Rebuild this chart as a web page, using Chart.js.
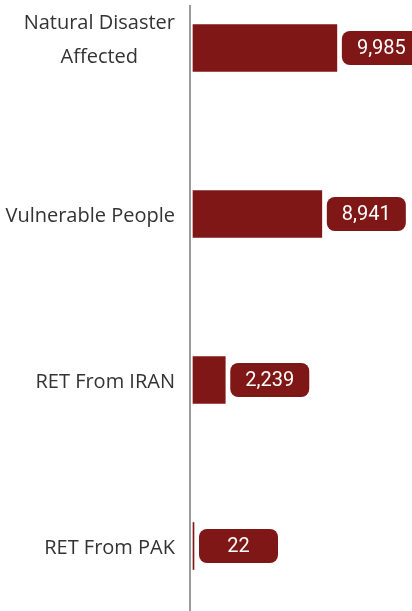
<!DOCTYPE html>
<html>
<head>
<meta charset="utf-8">
<script src="https://cdn.jsdelivr.net/npm/chart.js@4"></script>
<style>
  html, body { margin: 0; padding: 0; background: #fff; }
  #wrap { width: 412px; height: 611px; position: relative; }
</style>
</head>
<body>
<div id="wrap"><canvas id="chart"></canvas></div>
<script>
// datos del grafico
const categories = [['Natural Disaster', 'Affected'], 'Vulnerable People', 'RET From IRAN', 'RET From PAK'];
const values = [9985, 8941, 2239, 22];
const valueLabels = ['9,985', '8,941', '2,239', '22'];

const barColor = '#7E1716';

// etiquetas de categoria a la izquierda (lineas centradas entre si, bloque alineado a la derecha)
const categoryLabels = {
  id: 'categoryLabels',
  afterDraw(chart) {
    const ctx = chart.ctx;
    const y = chart.scales.y;
    const rightX = 175;
    ctx.save();
    ctx.font = '20px "Open Sans"';
    ctx.fillStyle = '#333333';
    ctx.textBaseline = 'middle';
    ctx.textAlign = 'center';
    categories.forEach((cat, i) => {
      const lines = Array.isArray(cat) ? cat : [cat];
      const w = Math.max(...lines.map(l => ctx.measureText(l).width));
      const cy = y.getPixelForValue(i);
      const lh = 34;
      const start = lines.length > 1 ? cy - 25 : cy + 2;
      lines.forEach((l, j) => {
        ctx.fillText(l, rightX - w / 2, start + j * lh);
      });
    });
    // linea del eje
    ctx.strokeStyle = '#9a9a9a';
    ctx.lineWidth = 2;
    ctx.beginPath();
    ctx.moveTo(190, 5);
    ctx.lineTo(190, 611);
    ctx.stroke();
    ctx.restore();
  }
};

// cajas con el valor al final de cada barra
const valueBoxes = {
  id: 'valueBoxes',
  afterDatasetsDraw(chart) {
    const ctx = chart.ctx;
    const meta = chart.getDatasetMeta(0);
    ctx.save();
    ctx.font = '20px Roboto';
    meta.data.forEach((bar, i) => {
      const x0 = bar.x + 5;
      const w = 79, h = 34;
      const y0 = bar.y - h / 2;
      ctx.fillStyle = barColor;
      ctx.beginPath();
      ctx.roundRect(x0, y0, w, h, 8);
      ctx.fill();
      ctx.fillStyle = '#ffffff';
      ctx.textAlign = 'center';
      ctx.textBaseline = 'middle';
      ctx.fillText(valueLabels[i], x0 + w / 2, bar.y + 1);
    });
    ctx.restore();
  }
};

new Chart(document.getElementById('chart'), {
  type: 'bar',
  data: {
    labels: categories,
    datasets: [{
      data: values,
      backgroundColor: barColor,
      barThickness: 47,
      minBarLength: 1,
      clip: false
    }]
  },
  options: {
    indexAxis: 'y',
    responsive: true,
    maintainAspectRatio: false,
    animation: false,
    layout: { padding: { left: 193, right: 0, top: 48, bottom: 65 } },
    plugins: {
      legend: { display: false },
      tooltip: { enabled: false }
    },
    scales: {
      x: { display: false, min: 0, max: 15200 },
      y: { display: false, offset: false }
    }
  },
  plugins: [categoryLabels, valueBoxes]
});
</script>
</body>
</html>
